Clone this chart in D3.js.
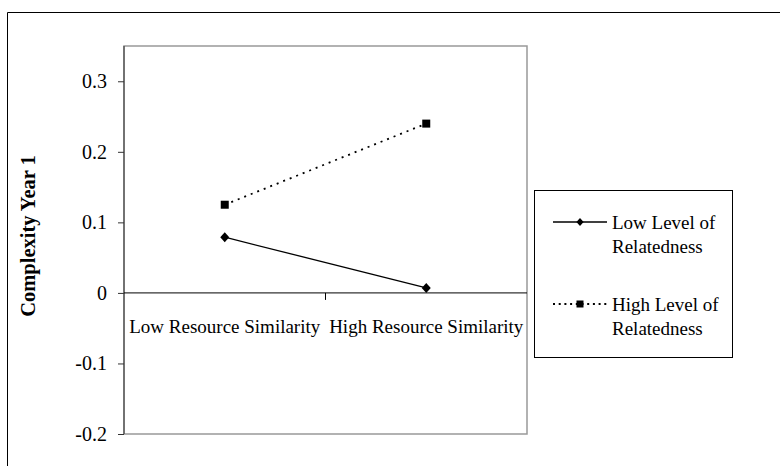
<!DOCTYPE html>
<html>
<head>
<meta charset="utf-8">
<script src="https://cdn.jsdelivr.net/npm/d3@7"></script>
<style>
  body { margin: 0; background: #fff; }
  text { font-family: "Liberation Serif", "Times New Roman", serif; fill: #000; }
</style>
</head>
<body>
<div id="chart"></div>
<script>
// data
const categories = ["Low Resource Similarity", "High Resource Similarity"];
const lowRelated = [0.079, 0.007];
const highRelated = [0.125, 0.240];
const seriesNames = [["Low Level of", "Relatedness"], ["High Level of", "Relatedness"]];
const yTicks = [-0.2, -0.1, 0, 0.1, 0.2, 0.3];

const W = 780, H = 466;
const plot = {left: 124, right: 527, top: 46, bottom: 434};

let svg = d3.select("#chart")
    .append("svg")
    .attr("width", W)
    .attr("height", H);

// outer frame (runs off right and bottom)
svg.append("path")
    .attr("d", "M7.5," + (H + 5) + "V12.5H" + (W + 5))
    .attr("fill", "none")
    .attr("stroke", "#000")
    .attr("stroke-width", 1);

// scales
const yScale = d3.scaleLinear()
    .domain([-0.2, 0.35])
    .range([plot.bottom, plot.top]);
const xScale = d3.scaleBand()
    .domain(categories)
    .range([plot.left, plot.right]);

// plot area border
svg.append("rect")
    .attr("x", plot.left)
    .attr("y", plot.top)
    .attr("width", plot.right - plot.left)
    .attr("height", plot.bottom - plot.top)
    .attr("fill", "none")
    .attr("stroke", "#999")
    .attr("stroke-width", 1.5);

// y axis
const yAxis = svg.append("g")
    .attr("transform", "translate(" + plot.left + ",0)")
    .call(d3.axisLeft(yScale)
        .tickValues(yTicks)
        .tickSize(6)
        .tickPadding(11)
        .tickFormat(d => d === 0 ? "0" : d.toFixed(1)));
yAxis.select(".domain").remove();
yAxis.append("line")
    .attr("x1", 0).attr("x2", 0)
    .attr("y1", plot.top).attr("y2", plot.bottom)
    .attr("stroke", "#333");
yAxis.selectAll("text")
    .style("font-family", "'Liberation Serif', 'Times New Roman', serif")
    .style("font-size", "20px")
    .attr("fill", "#000");
yAxis.selectAll(".tick line").attr("stroke", "#333");

// x axis at zero
const y0 = yScale(0);
svg.append("line")
    .attr("x1", plot.left).attr("x2", plot.right)
    .attr("y1", y0).attr("y2", y0)
    .attr("stroke", "#000");
svg.selectAll(".xtick")
    .data(categories.slice(1))
    .enter()
    .append("line")
    .attr("class", "xtick")
    .attr("x1", d => xScale(d)).attr("x2", d => xScale(d))
    .attr("y1", y0).attr("y2", y0 + 7)
    .attr("stroke", "#000");
svg.selectAll(".xlabel")
    .data(categories)
    .enter()
    .append("text")
    .attr("class", "xlabel")
    .attr("x", d => xScale(d) + xScale.bandwidth() / 2)
    .attr("y", y0 + 40)
    .attr("text-anchor", "middle")
    .style("font-size", "19px")
    .text(d => d);

// y title
svg.append("text")
    .attr("transform", "translate(35," + ((plot.top + plot.bottom) / 2 - 4) + ") rotate(-90)")
    .attr("text-anchor", "middle")
    .style("font-size", "20.5px")
    .style("font-weight", "bold")
    .text("Complexity Year 1");

// lines
const xc = (d, i) => xScale(categories[i]) + xScale.bandwidth() / 2;
const line = d3.line()
    .x(xc)
    .y(d => yScale(d));

svg.append("path")
    .datum(lowRelated)
    .attr("d", line)
    .attr("fill", "none")
    .attr("stroke", "#000")
    .attr("stroke-width", 1.3);

svg.append("path")
    .datum(highRelated)
    .attr("d", line)
    .attr("fill", "none")
    .attr("stroke", "#000")
    .attr("stroke-width", 1.8)
    .attr("stroke-dasharray", "2,5");

// markers
const diamond = r => "M0," + (-r) + "L" + r * 0.9 + ",0L0," + r + "L" + (-r * 0.9) + ",0Z";
svg.selectAll(".dmark")
    .data(lowRelated)
    .enter()
    .append("path")
    .attr("class", "dmark")
    .attr("d", diamond(5))
    .attr("transform", (d, i) => "translate(" + xc(d, i) + "," + yScale(d) + ")")
    .attr("fill", "#000");

svg.selectAll(".smark")
    .data(highRelated)
    .enter()
    .append("rect")
    .attr("class", "smark")
    .attr("x", (d, i) => xc(d, i) - 4)
    .attr("y", d => yScale(d) - 4)
    .attr("width", 8)
    .attr("height", 8)
    .attr("fill", "#000");

// legend
const legend = svg.append("g");
legend.append("rect")
    .attr("x", 534.5)
    .attr("y", 190.5)
    .attr("width", 198)
    .attr("height", 167)
    .attr("fill", "#fff")
    .attr("stroke", "#000");

const legY = [222, 304];
legend.append("line")
    .attr("x1", 553).attr("x2", 607)
    .attr("y1", legY[0]).attr("y2", legY[0])
    .attr("stroke", "#000").attr("stroke-width", 1.3);
legend.append("path")
    .attr("d", diamond(4))
    .attr("transform", "translate(580," + legY[0] + ")");
legend.append("line")
    .attr("x1", 553).attr("x2", 607)
    .attr("y1", legY[1]).attr("y2", legY[1])
    .attr("stroke", "#000").attr("stroke-width", 1.8)
    .attr("stroke-dasharray", "2,3.7");
legend.append("rect")
    .attr("x", 576.5).attr("y", legY[1] - 3.5)
    .attr("width", 7).attr("height", 7);

seriesNames.forEach((lines, i) => {
    legend.append("text")
        .attr("x", 612)
        .attr("y", legY[i] + 6.5)
        .style("font-size", "19px")
        .selectAll("tspan")
        .data(lines)
        .enter()
        .append("tspan")
        .attr("x", 612)
        .attr("dy", (d, j) => j === 0 ? 0 : 24)
        .text(d => d);
});
</script>
</body>
</html>
